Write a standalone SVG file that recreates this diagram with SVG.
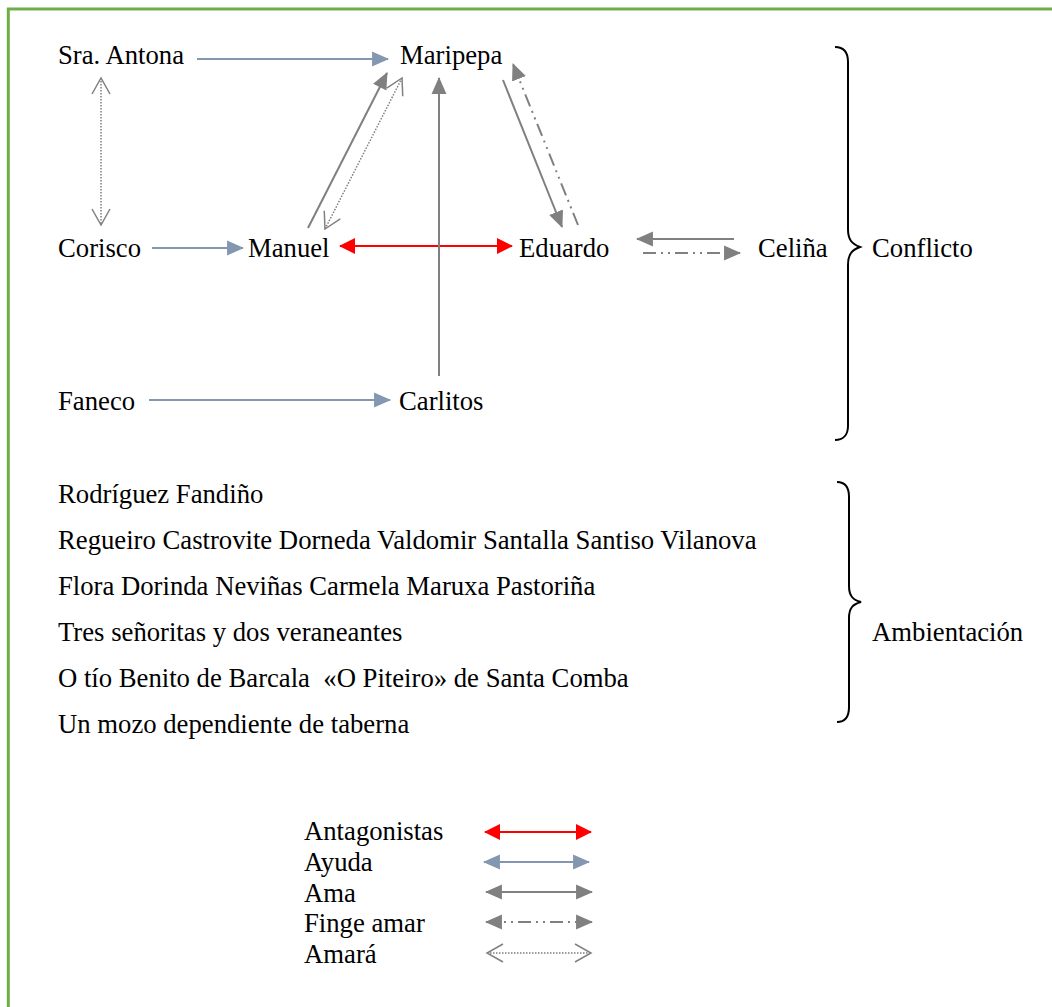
<svg xmlns="http://www.w3.org/2000/svg" width="1052" height="1007" viewBox="0 0 1052 1007">
<style>
text{font-family:"Liberation Serif","Times New Roman",serif;font-size:26.7px;fill:#000}
.ayuda{stroke:#8497B0;stroke-width:2.2;fill:none}
.ama{stroke:#808080;stroke-width:2;fill:none}
.anta{stroke:#FF0000;stroke-width:2;fill:none}
.finge{stroke:#808080;stroke-width:2;fill:none;stroke-dasharray:13 5 2 5 2 5}
.amara{stroke:#7f7f7f;stroke-width:1.5;fill:none;stroke-dasharray:1.5 1.5}
.brace{stroke:#000;stroke-width:2;fill:none}
</style>
<defs>
<marker id="hBlue" markerUnits="userSpaceOnUse" markerWidth="17" markerHeight="17" viewBox="0 0 16 16" refX="15" refY="8" orient="auto-start-reverse"><path d="M0,1 L16,8 L0,15 z" fill="#8497B0"/></marker>
<marker id="hGray" markerUnits="userSpaceOnUse" markerWidth="17" markerHeight="17" viewBox="0 0 16 16" refX="15" refY="8" orient="auto-start-reverse"><path d="M0,1 L16,8 L0,15 z" fill="#808080"/></marker>
<marker id="hRed" markerUnits="userSpaceOnUse" markerWidth="16" markerHeight="16" viewBox="0 0 16 16" refX="15" refY="8" orient="auto-start-reverse"><path d="M0,0 L16,8 L0,16 z" fill="#FF0000"/></marker>
<marker id="hOpen" markerUnits="userSpaceOnUse" markerWidth="20" markerHeight="20" viewBox="0 0 20 20" refX="17" refY="10" orient="auto-start-reverse"><path d="M1,1 L17,10 L1,19" fill="none" stroke="#808080" stroke-width="1.5"/></marker>
</defs>
<rect x="8.3" y="9" width="1100" height="1100" fill="none" stroke="#70AD47" stroke-width="3"/>

<g id="connectors">
<line class="ayuda" x1="197" y1="59" x2="388" y2="59" marker-end="url(#hBlue)"/>
<line class="amara" x1="101" y1="78" x2="101" y2="225" marker-start="url(#hOpen)" marker-end="url(#hOpen)"/>
<line class="ayuda" x1="152" y1="248" x2="243" y2="248" marker-end="url(#hBlue)"/>
<line class="anta" x1="340" y1="246" x2="512" y2="246" marker-start="url(#hRed)" marker-end="url(#hRed)"/>
<line class="ama" x1="308" y1="228" x2="387" y2="73" marker-end="url(#hGray)"/>
<line class="amara" x1="325" y1="229" x2="402" y2="78" marker-start="url(#hOpen)" marker-end="url(#hOpen)"/>
<line class="ama" x1="439" y1="376" x2="439" y2="78" marker-end="url(#hGray)"/>
<line class="ama" x1="503" y1="80" x2="562" y2="227" marker-end="url(#hGray)"/>
<line class="finge" x1="578" y1="225" x2="513" y2="64" marker-end="url(#hGray)"/>
<line class="ama" x1="734" y1="239" x2="637" y2="239" marker-end="url(#hGray)"/>
<line class="finge" x1="643" y1="253" x2="740" y2="253" marker-end="url(#hGray)"/>
<line class="ayuda" x1="149" y1="400" x2="390" y2="400" marker-end="url(#hBlue)"/>
</g>

<g id="n-antona"><text x="58" y="64">Sra. Antona</text></g>
<g id="n-maripepa"><text x="400" y="64">Maripepa</text></g>
<g id="n-corisco"><text x="58" y="257">Corisco</text></g>
<g id="n-manuel"><text x="248" y="257">Manuel</text></g>
<g id="n-eduardo"><text x="519" y="257">Eduardo</text></g>
<g id="n-celina"><text x="758" y="257">Celiña</text></g>
<g id="n-faneco"><text x="58" y="410">Faneco</text></g>
<g id="n-carlitos"><text x="399" y="410">Carlitos</text></g>

<g id="conflicto">
<path class="brace" d="M835,47 C843,47 848,52 848,62 L848,229 C848,240 852,244 860,247 C852,250 848,254 848,265 L848,426 C848,435 843,440 835,440"/>
<text x="872" y="257">Conflicto</text>
</g>

<g id="ambientacion-list">
<text x="58" y="503">Rodríguez Fandiño</text>
<text x="58" y="549">Regueiro Castrovite Dorneda Valdomir Santalla Santiso Vilanova</text>
<text x="58" y="595">Flora Dorinda Neviñas Carmela Maruxa Pastoriña</text>
<text x="58" y="641">Tres señoritas y dos veraneantes</text>
<text x="58" y="687" xml:space="preserve">O tío Benito de Barcala  «O Piteiro» de Santa Comba</text>
<text x="58" y="733">Un mozo dependiente de taberna</text>
</g>

<g id="ambientacion">
<path class="brace" d="M837,482 C845,482 849,487 849,497 L849,586 C849,596 853,600 861,602 C853,604 849,608 849,618 L849,707 C849,717 845,722 837,722"/>
<text x="872" y="641">Ambientación</text>
</g>

<g id="legend">
<text x="304" y="840">Antagonistas</text>
<line class="anta" x1="485" y1="832" x2="591" y2="832" marker-start="url(#hRed)" marker-end="url(#hRed)"/>
<text x="304" y="871">Ayuda</text>
<line class="ayuda" x1="484" y1="862" x2="589" y2="862" marker-start="url(#hBlue)" marker-end="url(#hBlue)"/>
<text x="304" y="902">Ama</text>
<line class="ama" x1="486" y1="892" x2="592" y2="892" marker-start="url(#hGray)" marker-end="url(#hGray)"/>
<text x="304" y="932">Finge amar</text>
<line class="finge" x1="486" y1="922" x2="592" y2="922" marker-start="url(#hGray)" marker-end="url(#hGray)"/>
<text x="304" y="963">Amará</text>
<line class="amara" x1="487" y1="953" x2="591" y2="953" marker-start="url(#hOpen)" marker-end="url(#hOpen)"/>
</g>
</svg>
